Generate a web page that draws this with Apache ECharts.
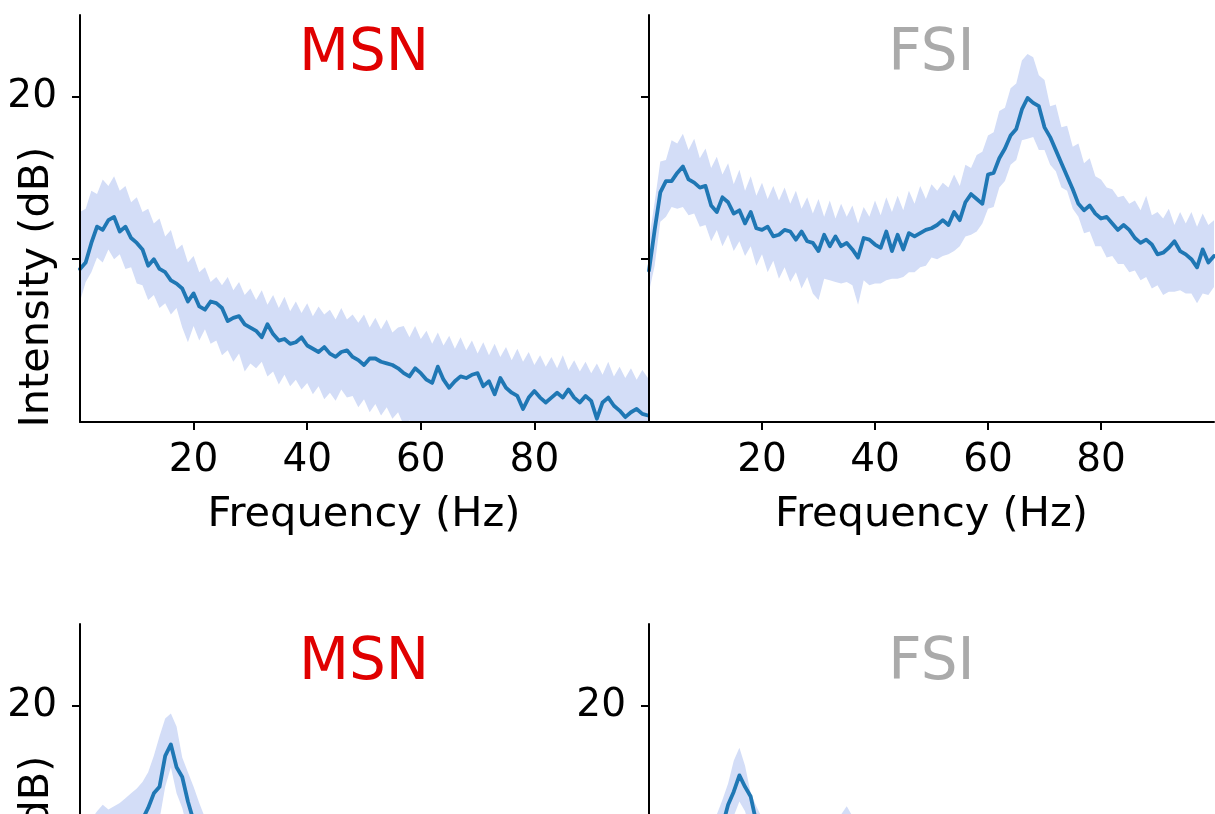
<!DOCTYPE html>
<html><head><meta charset="utf-8">
<script src="https://cdn.jsdelivr.net/npm/echarts@6/dist/echarts.min.js"></script>
<style>html,body{margin:0;padding:0;background:#fff;overflow:hidden}#c{width:1215px;height:814px}</style>
</head><body><div id="c"></div><script>
// ---------- data ----------
const freq = [0,1,2,3,4,5,6,7,8,9,10,11,12,13,14,15,16,17,18,19,20,21,22,23,24,25,26,27,28,29,30,31,32,33,34,35,36,37,38,39,40,41,42,43,44,45,46,47,48,49,50,51,52,53,54,55,56,57,58,59,60,61,62,63,64,65,66,67,68,69,70,71,72,73,74,75,76,77,78,79,80,81,82,83,84,85,86,87,88,89,90,91,92,93,94,95,96,97,98,99,100];

const msnTopMean = [9.4,9.8,11.0,12.0,11.8,12.4,12.6,11.7,12.0,11.3, 11.0,10.6,9.6,10.0,9.4,9.2,8.7,8.5,8.2,7.4, 7.9,7.1,6.9,7.4,7.3,7.0,6.2,6.4,6.5,6.0, 5.8,5.6,5.2,6.0,5.4,5.0,5.1,4.8,4.9,5.2, 4.7,4.5,4.3,4.6,4.2,4.0,4.3,4.4,4.0,3.8, 3.5,3.9,3.9,3.7,3.6,3.5,3.3,3.0,2.8,3.3, 3.0,2.6,2.4,3.4,2.6,2.1,2.5,2.8,2.7,2.9, 3.0,2.2,2.5,1.7,2.7,2.1,1.8,1.6,0.8,1.5, 1.9,1.5,1.2,1.5,1.8,1.5,2.0,1.5,1.2,1.6, 1.3,0.2,1.2,1.5,1.0,0.7,0.3,0.6,0.8,0.5, 0.4];
const msnTopUpper = [12.9,13.1,14.2,14.0,14.9,14.5,15.1,14.2,14.5,13.5, 13.8,12.9,13.1,12.2,12.5,11.4,11.8,10.6,10.9,9.8, 10.2,9.2,9.5,8.6,8.9,8.4,8.9,8.1,8.6,7.8, 8.2,7.5,8.1,7.2,7.8,7.0,7.7,6.8,7.4,6.7, 7.3,6.5,7.1,6.6,6.9,6.3,7.0,6.3,6.6,6.1, 6.6,5.8,6.4,5.7,6.3,5.5,5.8,5.9,5.2,5.9, 5.1,5.6,4.8,5.5,4.7,5.3,4.5,5.2,4.4,5.0, 4.2,4.9,4.1,4.8,4.0,4.6,3.8,4.5,3.7,4.3, 3.5,4.1,3.4,4.0,3.3,4.1,3.2,3.8,3.1,3.7, 3.0,3.6,2.9,3.7,2.8,3.4,2.7,3.3,2.6,3.2, 2.7];
const msnTopLower = [7.4,8.6,9.2,10.1,9.8,10.6,10.0,10.3,9.4,9.5, 8.5,8.4,7.5,7.8,7.0,7.3,6.6,7.0,5.8,4.9, 5.9,5.0,5.7,4.8,5.0,4.1,4.4,3.7,4.2,3.1, 3.6,3.3,3.7,2.8,3.1,2.3,2.9,2.2,2.6,2.0, 2.4,1.7,2.2,1.4,1.8,1.3,2.0,1.5,1.6,0.9, 1.4,0.6,1.1,0.4,0.9,0.2,0.6,-0.2,0.1,-0.5, -0.5,-0.6,-0.4,-0.8,-0.7,-0.9,-1.0,-0.9,-1.1,-1.2, -1.1,-1.3,-1.2,-1.4,-1.5,-1.3,-1.6,-1.5,-1.7,-1.6, -1.8,-1.7,-1.9,-1.8,-2.0,-1.9,-2.1,-2.0,-2.2,-2.1, -2.3,-2.2,-2.4,-2.3,-2.4,-2.5,-2.4,-2.6,-2.5,-2.6, -2.6];

const fsiTopMean = [9.3,11.8,14.1,14.8,14.8,15.3,15.7,14.9,14.7,14.4, 14.5,13.3,12.9,13.8,13.5,12.8,13.0,12.2,12.9,11.9, 11.8,12.0,11.4,11.5,11.8,11.7,11.2,11.7,11.1,11.0, 10.5,11.5,10.8,11.4,10.8,11.0,10.6,10.1,11.3,11.2, 10.9,10.7,11.7,10.5,11.5,10.6,11.6,11.4,11.6,11.8, 11.9,12.1,12.4,12.1,12.9,12.4,13.5,14.0,13.7,13.4, 15.2,15.3,16.2,16.8,17.6,18.0,19.2,19.9,19.6,19.4, 18.1,17.5,16.7,15.9,15.1,14.3,13.4,13.0,13.3,12.8, 12.5,12.6,12.2,11.8,12.1,11.8,11.3,11.0,11.2,10.9, 10.3,10.4,10.7,11.1,10.5,10.3,10.0,9.5,10.6,9.8, 10.2];
const fsiTopUpper = [11.2,13.5,16.0,16.1,17.3,17.1,17.7,16.7,17.4,16.2, 16.8,15.6,16.3,15.2,15.9,14.6,15.5,14.2,15.1,13.9, 14.7,13.7,14.5,13.6,14.4,13.4,14.2,13.1,13.8,12.8, 13.7,12.6,13.6,12.5,13.4,12.6,13.3,12.2,13.2,12.6, 13.6,12.7,13.8,12.9,13.9,13.0,14.2,13.4,14.5,13.7, 14.6,14.2,14.7,14.4,15.2,14.5,15.8,15.6,16.4,16.6, 17.6,17.8,19.1,19.3,20.5,20.8,22.2,22.6,22.4,21.3, 21.0,19.4,19.5,18.1,18.2,16.9,17.1,15.9,16.2,15.1, 14.9,14.4,14.3,13.8,13.9,13.4,13.6,13.0,13.9,12.7, 12.9,12.5,13.1,12.1,12.9,12.2,12.9,12.0,12.8,12.1, 12.4];
const fsiTopLower = [8.0,9.6,12.3,12.6,13.2,13.1,13.2,12.7,12.8,12.0, 12.1,11.1,11.8,10.8,11.5,10.5,11.1,10.2,10.8,9.6, 10.3,9.2,9.9,8.8,9.5,8.6,9.2,8.2,8.9,7.9, 7.5,8.8,8.7,8.6,8.5,8.6,8.4,7.2,8.7,8.4, 8.5,8.5,8.7,8.8,8.8,8.9,9.2,9.2,9.5,9.6, 10.1,10.0,10.2,10.3,10.5,10.8,11.4,11.5,11.7,12.2, 13.1,13.2,14.4,14.8,15.8,16.1,17.3,17.4,17.5,16.7, 16.7,15.8,15.4,14.4,14.2,13.1,12.6,11.6,11.7,10.8, 10.8,10.1,10.2,9.7,9.7,9.2,9.3,8.7,8.9,8.2, 8.4,7.8,8.0,8.0,8.1,7.9,7.9,7.3,7.9,7.8, 8.3];

const msnBotMean = [9.5,10.0,10.6,11.0,11.3,11.2,11.5,11.6,11.9,12.1, 12.4,13.0,13.7,14.6,15.0,16.9,17.6,16.2,15.6,14.1, 12.9,11.6,10.8,10.2,9.7,9.3,9.0,8.6,8.4,8.1, 7.8,7.6,7.3,7.1,6.9,6.7,6.5,6.4,6.2,6.0, 5.9,5.7,5.6,5.4,5.3,5.1,5.0,4.9,4.7,4.6, 4.5,4.4,4.3,4.1,4.0,3.9,3.8,3.7,3.6,3.5, 3.4,3.3,3.2,3.1,3.0,2.9,2.9,2.8,2.7,2.6, 2.5,2.5,2.4,2.3,2.2,2.2,2.1,2.0,2.0,1.9, 1.8,1.8,1.7,1.6,1.6,1.5,1.5,1.4,1.3,1.3, 1.2,1.2,1.1,1.0,1.0,0.9,0.9,0.8,0.8,0.7, 0.7];
const msnBotUpper = [12.0,12.6,13.0,13.5,13.9,13.6,13.8,14.0,14.3,14.6, 14.9,15.3,15.9,16.9,18.1,19.2,19.5,18.7,16.8,15.9, 15.0,14.0,13.1,12.6,12.1,11.7,11.3,11.0,10.7,10.4, 10.1,9.9,9.6,9.4,9.2,9.0,8.8,8.6,8.4,8.2, 8.1,7.9,7.8,7.6,7.5,7.3,7.2,7.0,6.9,6.8, 6.7,6.6,6.5,6.3,6.2,6.1,6.0,5.9,5.8,5.7, 5.6,5.5,5.4,5.3,5.2,5.1,5.1,5.0,4.9,4.8, 4.7,4.7,4.6,4.5,4.4,4.4,4.3,4.2,4.2,4.1, 4.0,4.0,3.9,3.8,3.8,3.7,3.7,3.6,3.5,3.5, 3.4,3.4,3.3,3.2,3.2,3.1,3.1,3.0,3.0,2.9, 2.9];
const msnBotLower = [7.0,7.4,8.2,8.5,8.7,8.8,9.2,9.3,9.5,9.6, 10.0,10.7,11.5,12.4,13.0,15.0,16.2,14.6,13.7,12.3, 10.8,9.3,8.5,7.8,7.3,6.9,6.6,6.2,6.0,5.7, 5.4,5.2,5.0,4.8,4.6,4.4,4.2,4.1,3.9,3.7, 3.6,3.4,3.3,3.1,3.0,2.8,2.7,2.6,2.4,2.3, 2.2,2.1,2.0,1.8,1.7,1.6,1.5,1.4,1.3,1.2, 1.1,1.0,0.9,0.8,0.7,0.6,0.6,0.5,0.4,0.3, 0.2,0.2,0.1,0.0,-0.1,-0.1,-0.2,-0.3,-0.3,-0.4, -0.5,-0.5,-0.6,-0.7,-0.7,-0.8,-0.8,-0.9,-1.0,-1.0, -1.1,-1.1,-1.2,-1.3,-1.3,-1.4,-1.4,-1.5,-1.5,-1.6, -1.6];

const fsiBotMean = [8.5,9.0,9.4,9.7,9.9,10.1,10.2,10.4,10.6,10.8, 11.0,11.3,11.8,12.6,13.9,14.7,15.7,15.0,14.4,12.8, 11.7,11.0,10.5,10.2,10.0,9.9,9.8,9.7,9.7,9.8, 9.9,10.1,10.3,10.6,11.0,11.5,11.1,10.7,10.4,10.2, 10.0,9.9,9.8,9.7,9.6,9.5,9.5,9.4,9.3,9.3, 9.2,9.2,9.1,9.1,9.0,9.0,8.9,8.9,8.8,8.8, 8.7,8.7,8.6,8.6,8.5,8.5,8.4,8.4,8.3,8.3, 8.2,8.2,8.1,8.1,8.0,8.0,7.9,7.9,7.8,7.8, 7.7,7.7,7.6,7.6,7.5,7.5,7.4,7.4,7.3,7.3, 7.2,7.2,7.1,7.1,7.0,7.0,6.9,6.9,6.8,6.8, 6.7];
const fsiBotUpper = [10.6,11.1,11.5,11.8,12.0,12.2,12.3,12.5,12.7,12.9, 13.1,13.2,13.3,14.2,15.2,16.6,17.4,16.3,14.6,13.8, 13.1,12.6,12.2,11.9,11.7,11.6,11.5,11.5,11.6,11.8, 12.0,12.2,12.5,12.9,13.3,13.8,13.2,12.6,12.2,11.9, 11.7,11.6,11.5,11.4,11.3,11.2,11.2,11.1,11.0,11.0, 10.9,10.9,10.8,10.8,10.7,10.7,10.6,10.6,10.5,10.5, 10.4,10.4,10.3,10.3,10.2,10.2,10.1,10.1,10.0,10.0, 9.9,9.9,9.8,9.8,9.7,9.7,9.6,9.6,9.5,9.5, 9.4,9.4,9.3,9.3,9.2,9.2,9.1,9.1,9.0,9.0, 8.9,8.9,8.8,8.8,8.7,8.7,8.6,8.6,8.5,8.5, 8.4];
const fsiBotLower = [6.4,6.9,7.3,7.6,7.8,8.0,8.1,8.3,8.5,8.7, 8.9,9.4,10.3,11.0,12.6,13.2,14.1,13.5,12.2,11.8, 10.3,9.4,8.8,8.5,8.3,8.2,8.1,7.9,7.8,7.8, 7.8,8.0,8.1,8.3,8.7,9.2,9.0,8.8,8.6,8.5, 8.3,8.2,8.1,8.0,7.9,7.8,7.8,7.7,7.6,7.6, 7.5,7.5,7.4,7.4,7.3,7.3,7.2,7.2,7.1,7.1, 7.0,7.0,6.9,6.9,6.8,6.8,6.7,6.7,6.6,6.6, 6.5,6.5,6.4,6.4,6.3,6.3,6.2,6.2,6.1,6.1, 6.0,6.0,5.9,5.9,5.8,5.8,5.7,5.7,5.6,5.6, 5.5,5.5,5.4,5.4,5.3,5.3,5.2,5.2,5.1,5.1, 5.0];

const xTickValues = [20, 40, 60, 80];
const yTickValues = [10, 20];
const yLabelValues = [20];
const titles = ['MSN', 'FSI', 'MSN', 'FSI'];
const xAxisTitle = 'Frequency (Hz)';
const yAxisTitle = 'Intensity (dB)';

// ---------- layout / style ----------
const FONT = 'DejaVu Sans';
const LINE = '#1f77b4';
const BAND = '#d3ddf7';
const titleColors = ['#e00000', '#aaaaaa', '#e00000', '#aaaaaa'];
const grids = [
  {left: 80, top: 15, width: 568, height: 407},
  {left: 649, top: 15, width: 565, height: 407},
  {left: 80, top: 624, width: 568, height: 407},
  {left: 649, top: 624, width: 565, height: 407}
].map(g => Object.assign({outerBoundsMode: 'none', containLabel: false}, g));
const panelData = [
  [msnTopMean, msnTopUpper, msnTopLower],
  [fsiTopMean, fsiTopUpper, fsiTopLower],
  [msnBotMean, msnBotUpper, msnBotLower],
  [fsiBotMean, fsiBotUpper, fsiBotLower]
];
const showYLabels = [true, false, true, true];

const xAxes = [], yAxes = [], series = [], graphics = [];
grids.forEach((g, i) => {
  xAxes.push({
    type: 'value', gridIndex: i, min: 0, max: 100, z: 10,
    axisLine: {show: true, lineStyle: {color: '#000', width: 2}},
    axisTick: {show: true, customValues: xTickValues, length: 8, lineStyle: {color: '#000', width: 2}},
    axisLabel: {show: true, customValues: xTickValues, fontSize: 39, color: '#000', fontFamily: FONT, margin: 19},
    splitLine: {show: false},
    name: xAxisTitle, nameLocation: 'middle', nameGap: 72,
    nameTextStyle: {fontSize: 41.5, color: '#000', fontFamily: FONT}
  });
  yAxes.push({
    type: 'value', gridIndex: i, min: 0, max: 25, z: 10,
    axisLine: {show: true, lineStyle: {color: '#000', width: 2}},
    axisTick: {show: true, customValues: yTickValues, length: 8, lineStyle: {color: '#000', width: 2}},
    axisLabel: {show: showYLabels[i], customValues: yLabelValues, fontSize: 39, color: '#000', fontFamily: FONT, margin: 23},
    splitLine: {show: false}
  });
  const [mean, upper, lower] = panelData[i];
  // band: upper area filled down to the axis, then the area under the lower edge painted white
  series.push({
    type: 'line', xAxisIndex: i, yAxisIndex: i, z: 2,
    data: freq.map((f, k) => [f, upper[k]]), symbol: 'none', silent: true,
    lineStyle: {width: 0, opacity: 0}, areaStyle: {color: BAND, opacity: 1, origin: 'start'}
  });
  series.push({
    type: 'line', xAxisIndex: i, yAxisIndex: i, z: 3,
    data: freq.map((f, k) => [f, lower[k]]), symbol: 'none', silent: true,
    lineStyle: {width: 0, opacity: 0}, areaStyle: {color: '#ffffff', opacity: 1, origin: 'start'}
  });
  series.push({
    type: 'line', xAxisIndex: i, yAxisIndex: i, z: 5,
    data: freq.map((f, k) => [f, mean[k]]), symbol: 'none', silent: true,
    lineStyle: {color: LINE, width: 3.8, join: 'round', cap: 'round'}
  });
  graphics.push({
    type: 'text', x: g.left + g.width / 2, y: g.top + 40, z: 100,
    style: {text: titles[i], fill: titleColors[i], fontSize: 58, fontFamily: FONT, align: 'center', verticalAlign: 'middle'}
  });
});
[0, 2].forEach(i => {
  graphics.push({
    type: 'text', x: 37, y: grids[i].top + 272, rotation: Math.PI / 2, z: 100,
    style: {text: yAxisTitle, fill: '#000', fontSize: 41.5, fontFamily: FONT, align: 'center', verticalAlign: 'middle'}
  });
});

const chart = echarts.init(document.getElementById('c'), null, {renderer: 'canvas'});
chart.setOption({
  animation: false,
  backgroundColor: '#fff',
  grid: grids,
  xAxis: xAxes,
  yAxis: yAxes,
  series: series,
  graphic: graphics
});
</script></body></html>
